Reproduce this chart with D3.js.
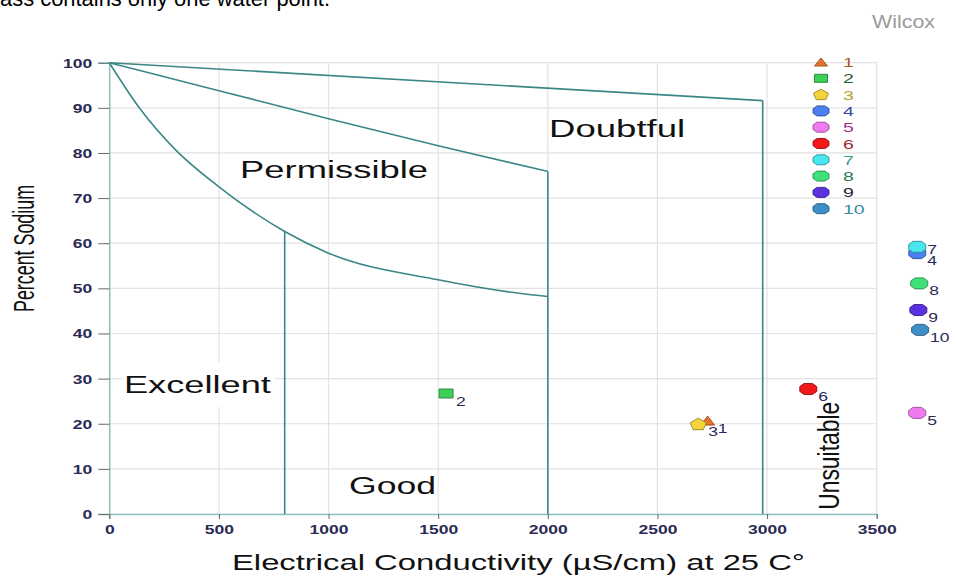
<!DOCTYPE html>
<html>
<head>
    <meta charset="UTF-8">
    <title>Wilcox diagram</title>
    <style type="text/css">
        body { margin: 0; background: #fff; }
        text { font-family: "Liberation Sans", Arial, sans-serif; }
    </style>
    <script src="https://cdn.jsdelivr.net/npm/d3@7"></script>
</head>
<body>
<script type="text/javascript">
    // axis ticks
    var xTicks = [0, 500, 1000, 1500, 2000, 2500, 3000, 3500];
    var yTicks = [0, 10, 20, 30, 40, 50, 60, 70, 80, 90, 100];

    // class boundaries [EC, %Na]
    var lineDoubtfulTop = [[0, 100], [2980, 91.6]];
    var linePermissibleTop = [[0, 100], [500, 93.8], [1000, 87.6], [1500, 81.6], [2000, 75.9]];
    var lineGoodTop = [[0, 100], [140, 89.8], [300, 80.8], [500, 72.5], [800, 62.6], [1000, 57.8], [1500, 51.9], [1870, 48.9], [2000, 48.2]];
    var lineGoodEdge = [[800, 0], [800, 62.6]];
    var linePermissibleEdge = [[2000, 0], [2000, 75.9]];
    var lineDoubtfulEdge = [[2980, 0], [2980, 91.6]];

    // class names and where they sit (EC, %Na)
    var regionNames = ["Excellent", "Good", "Permissible", "Doubtful", "Unsuitable"];
    var regionEC = [402, 1292, 1025, 2316, 3328];
    var regionNa = [26.8, 4.4, 74.5, 83.5, 12.9];

    // water points
    var sampleIds = [1, 2, 3, 4, 5, 6, 7, 8, 9, 10];
    var sampleEC = [2729, 1536, 2686, 3685, 3685, 3188, 3685, 3694, 3690, 3698];
    var sampleNa = [20.7, 26.7, 19.9, 57.8, 22.4, 27.7, 59.2, 51.1, 45.2, 40.8];
    var sampleShapes = ["triangle", "square", "pentagon", "octagon", "octagon", "octagon", "octagon", "octagon", "octagon", "octagon"];
    var sampleColors = ["#e8742c", "#3ccf5a", "#f5d33a", "#4c7ff0", "#f07af0", "#f01818", "#48e6ee", "#3fe07a", "#5a30e0", "#3e8ec8"];
    var legendTextColors = ["#a8542a", "#1e5a32", "#b0a030", "#3a4aa0", "#a0308a", "#a0283a", "#3aa090", "#2a7a4a", "#1e1e3a", "#3a8aa8"];

    var W = 956, H = 577;
    var svg = d3.select("body").append("svg")
        .attr("width", W)
        .attr("height", H);

    var x = d3.scaleLinear().domain([0, 3500]).range([109.3, 876.7]);
    var y = d3.scaleLinear().domain([0, 100]).range([514, 62.7]);

    // stretch text horizontally (the source picture is widened)
    function stretch(sel, k) {
        sel.each(function() {
            var len = this.getComputedTextLength();
            d3.select(this).attr("textLength", len * k).attr("lengthAdjust", "spacingAndGlyphs");
        });
    }

    // polygon marker paths, w x h box
    function shapePath(shape, w, h) {
        var pts;
        if (shape == "triangle") pts = [[0, -0.5], [0.5, 0.5], [-0.5, 0.5]];
        else if (shape == "square") pts = [[-0.5, -0.5], [0.5, -0.5], [0.5, 0.5], [-0.5, 0.5]];
        else if (shape == "pentagon") pts = [[0, -0.55], [0.5, -0.12], [0.32, 0.5], [-0.32, 0.5], [-0.5, -0.12]];
        else pts = [[-0.25, -0.5], [0.25, -0.5], [0.5, -0.22], [0.5, 0.22], [0.25, 0.5], [-0.25, 0.5], [-0.5, 0.22], [-0.5, -0.22]];
        return "M" + pts.map(function(p) { return (p[0] * w).toFixed(2) + "," + (p[1] * h).toFixed(2); }).join("L") + "Z";
    }
    var shapeSize = { triangle: [14, 9], square: [14, 9], pentagon: [16, 11], octagon: [17, 11] };

    // top cut-off caption
    svg.append("text")
        .attr("x", 0).attr("y", 6)
        .attr("font-family", "'Open Sans', sans-serif")
        .attr("font-size", 22)
        .attr("textLength", 330).attr("lengthAdjust", "spacingAndGlyphs")
        .text("ass contains only one water point.");

    // title
    svg.append("text")
        .attr("x", 935).attr("y", 28)
        .attr("text-anchor", "end")
        .attr("font-size", 18)
        .attr("fill", "#9a9a9a")
        .attr("textLength", 63).attr("lengthAdjust", "spacingAndGlyphs")
        .text("Wilcox");

    // grid
    svg.append("g").selectAll("line").data(xTicks).enter().append("line")
        .attr("x1", function(d) { return x(d); }).attr("x2", function(d) { return x(d); })
        .attr("y1", y(0)).attr("y2", y(100))
        .attr("stroke", "#e2e2e2").attr("stroke-width", 1.2);
    svg.append("g").selectAll("line").data(yTicks).enter().append("line")
        .attr("x1", x(0)).attr("x2", x(3500))
        .attr("y1", function(d) { return y(d); }).attr("y2", function(d) { return y(d); })
        .attr("stroke", "#e2e2e2").attr("stroke-width", 1.2);

    // white patch behind "Excellent" like the original
    svg.append("rect")
        .attr("x", 122).attr("y", 362).attr("width", 153).attr("height", 45)
        .attr("fill", "#fff");

    // axes
    var fmt = d3.format("d");
    var yAxis = svg.append("g")
        .attr("transform", "translate(" + x(0) + ",0)")
        .call(d3.axisLeft(y).tickValues(yTicks).tickFormat(fmt).tickSize(11).tickPadding(6));
    var xAxis = svg.append("g")
        .attr("transform", "translate(0," + y(0) + ")")
        .call(d3.axisBottom(x).tickValues(xTicks).tickFormat(fmt).tickSize(5).tickPadding(4));
    [xAxis, yAxis].forEach(function(ax) {
        ax.select(".domain").attr("stroke", "#8cc4c4").attr("stroke-width", 1.5);
        ax.selectAll(".tick line").attr("stroke", "#666");
        ax.selectAll(".tick text")
            .attr("fill", "#2a2a55")
            .attr("font-family", "'Liberation Sans', Arial, sans-serif")
            .attr("font-size", 12.5)
            .attr("font-weight", "bold");
    });
    yAxis.selectAll(".tick text").attr("dy", "0.36em");
    xAxis.selectAll(".tick text").attr("dy", "0.9em");
    stretch(xAxis.selectAll(".tick text"), 1.4);
    stretch(yAxis.selectAll(".tick text"), 1.4);

    // boundaries
    var straight = d3.line()
        .x(function(d) { return x(d[0]); })
        .y(function(d) { return y(d[1]); });
    var smooth = d3.line()
        .x(function(d) { return x(d[0]); })
        .y(function(d) { return y(d[1]); })
        .curve(d3.curveMonotoneX);
    var bounds = svg.append("g")
        .attr("fill", "none")
        .attr("stroke", "#3b8787")
        .attr("stroke-width", 1.6);
    bounds.append("path").attr("d", straight(lineDoubtfulTop));
    bounds.append("path").attr("d", smooth(linePermissibleTop));
    bounds.append("path").attr("d", smooth(lineGoodTop));
    bounds.append("path").attr("d", straight(lineGoodEdge));
    bounds.append("path").attr("d", straight(linePermissibleEdge));
    bounds.append("path").attr("d", straight(lineDoubtfulEdge));

    // class labels
    var regionWidths = { Excellent: 147, Good: 87, Permissible: 188, Doubtful: 136, Unsuitable: 108 };
    regionNames.forEach(function(name, i) {
        var t = svg.append("text")
            .attr("fill", "#111")
            .attr("text-anchor", "middle")
            .attr("lengthAdjust", "spacingAndGlyphs")
            .attr("textLength", regionWidths[name])
            .text(name);
        if (name == "Unsuitable") {
            t.attr("font-size", 29)
                .attr("transform", "translate(" + x(regionEC[i]) + "," + y(regionNa[i]) + ") rotate(-90)");
        } else {
            t.attr("font-size", 23)
                .attr("x", x(regionEC[i])).attr("y", y(regionNa[i]));
        }
    });

    // axis titles
    svg.append("text")
        .attr("x", 518.5).attr("y", 570)
        .attr("text-anchor", "middle")
        .attr("font-size", 22)
        .attr("fill", "#111")
        .attr("textLength", 573).attr("lengthAdjust", "spacingAndGlyphs")
        .text("Electrical Conductivity (µS/cm) at 25 C°");
    svg.append("text")
        .attr("transform", "translate(33.5,248.5) rotate(-90)")
        .attr("text-anchor", "middle")
        .attr("font-size", 29)
        .attr("fill", "#111")
        .attr("textLength", 127).attr("lengthAdjust", "spacingAndGlyphs")
        .text("Percent Sodium");

    // points
    var pts = svg.append("g");
    sampleIds.forEach(function(id, i) {
        var sz = shapeSize[sampleShapes[i]];
        var px = x(sampleEC[i]), py = y(sampleNa[i]);
        pts.append("path")
            .attr("d", shapePath(sampleShapes[i], sz[0], sz[1]))
            .attr("transform", "translate(" + px + "," + py + ")")
            .attr("fill", sampleColors[i])
            .attr("stroke", d3.color(sampleColors[i]).darker(1.3))
            .attr("stroke-width", 0.9);
    });
    sampleIds.forEach(function(id, i) {
        var px = x(sampleEC[i]), py = y(sampleNa[i]);
        var lift = id == 7 ? -5 : 0;
        var t = pts.append("text")
            .attr("x", px + 10).attr("y", py + 12 + lift)
            .attr("font-size", 12.5)
            .attr("fill", "#2a2a5a")
            .text(id);
        stretch(t, 1.4);
    });

    // legend
    var leg = svg.append("g").attr("transform", "translate(821,62)");
    sampleIds.forEach(function(id, i) {
        var sz = shapeSize[sampleShapes[i]];
        var ry = i * 16.3;
        leg.append("path")
            .attr("d", shapePath(sampleShapes[i], sz[0] - 1, sz[1] - 1))
            .attr("transform", "translate(0," + ry + ")")
            .attr("fill", sampleColors[i])
            .attr("stroke", d3.color(sampleColors[i]).darker(1.3))
            .attr("stroke-width", 0.9);
        var t = leg.append("text")
            .attr("x", 22).attr("y", ry + 5)
            .attr("font-size", 13)
            .attr("fill", legendTextColors[i])
            .text(id);
        stretch(t, 1.5);
    });
</script>
</body>
</html>
